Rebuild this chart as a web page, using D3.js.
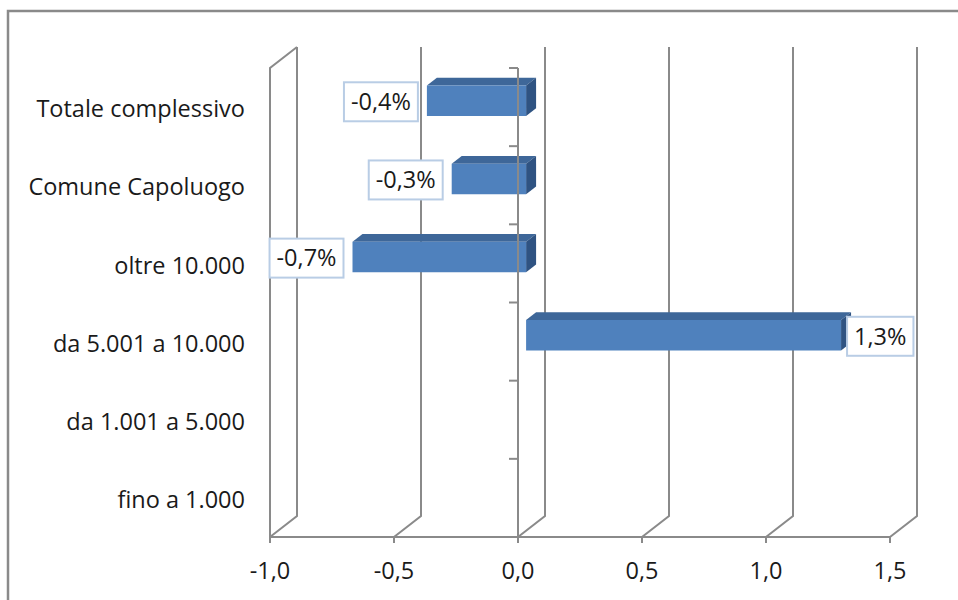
<!DOCTYPE html>
<html>
<head>
<meta charset="utf-8">
<script src="https://cdn.jsdelivr.net/npm/d3@7"></script>
<style>
  html, body { margin: 0; padding: 0; background: #fff; }
  svg { display: block; }
  text { font-family: "Open Sans", Lato, sans-serif; fill: #1a1a1a; }
</style>
</head>
<body>
<div id="vis"></div>
<script>

/* Data */
/* ---- */

var categories = ['Totale complessivo', 'Comune Capoluogo', 'oltre 10.000', 'da 5.001 a 10.000', 'da 1.001 a 5.000', 'fino a 1.000'];
var values = [-0.4, -0.3, -0.7, 1.27, null, null];
var xTicks = [-1.0, -0.5, 0.0, 0.5, 1.0, 1.5];


/* Setup */
/* ----- */

var width = 958, height = 600;

var it = d3.formatLocale({ decimal: ',', thousands: '.', grouping: [3], currency: ['€', ''], minus: '-' });
var fmtTick = it.format('.1f');
var fmtPct = function(v) { return it.format('.1f')(v) + '%'; };

var svg = d3.select('#vis').append('svg')
    .attr('width', width)
    .attr('height', height);

// front plane scales
var x = d3.scaleLinear().domain([-1, 1.5]).range([270, 890]);
var y = d3.scaleBand().domain(categories).range([68, 537]);

// 3d offsets (front -> back)
var depth = { dx: 27, dy: -21 };
var barDepth = [0.3, 0.67]; // bar sits between these fractions of depth
var barFrac = 0.39;          // bar thickness relative to band

var grey = '#8a8a8a';

// outer frame
svg.append('rect')
    .attr('x', 8).attr('y', 11)
    .attr('width', 1000).attr('height', 700)
    .attr('fill', 'none')
    .attr('stroke', grey)
    .attr('stroke-width', 2.5);


/* Walls and gridlines */
/* ------------------- */

var grid = svg.append('g').attr('class', 'grid')
    .attr('fill', 'none')
    .attr('stroke', grey)
    .attr('stroke-width', 2);

var yTop = y.range()[0], yBot = y.range()[1];

// left wall front edge + top
grid.append('path')
    .attr('d', 'M' + x(-1) + ',' + yBot + 'V' + yTop + 'L' + (x(-1) + depth.dx) + ',' + (yTop + depth.dy));

// back gridlines with floor diagonals
grid.selectAll('.gl')
  .data(xTicks)
  .enter().append('path')
    .attr('class', 'gl')
    .attr('d', function(d) {
      return 'M' + (x(d) + depth.dx) + ',' + (yTop + depth.dy) +
        'V' + (yBot + depth.dy) +
        'L' + x(d) + ',' + yBot;
    });

// floor front edge
grid.append('path')
    .attr('d', 'M' + x(-1) + ',' + yBot + 'H' + x(1.5));

// ticks under floor
grid.selectAll('.ft')
  .data(xTicks)
  .enter().append('path')
    .attr('class', 'ft')
    .attr('d', function(d) { return 'M' + x(d) + ',' + yBot + 'v6'; });


/* Bars */
/* ---- */

var barData = categories.map(function(c, i) { return { cat: c, value: values[i] }; })
    .filter(function(d) { return d.value !== null; });

var bars = svg.append('g').attr('class', 'bars');

function pt(px, py, f) {
  return (px + f * depth.dx) + ',' + (py + f * depth.dy);
}

barData.forEach(function(d) {
  var x0 = x(Math.min(0, d.value)), x1 = x(Math.max(0, d.value));
  var cy = y(d.cat) + y.bandwidth() / 2;
  var h = y.bandwidth() * barFrac;
  var t = cy - h / 2, b = cy + h / 2;
  var f1 = barDepth[0], f2 = barDepth[1];

  d.face = { x0: x0 + f1 * depth.dx, x1: x1 + f1 * depth.dx, cy: cy + f1 * depth.dy };

  var g = bars.append('g');

  // top
  g.append('polygon')
      .attr('points', [pt(x0, t, f1), pt(x1, t, f1), pt(x1, t, f2), pt(x0, t, f2)].join(' '))
      .attr('fill', '#3e6799');

  // side
  g.append('polygon')
      .attr('points', [pt(x1, t, f1), pt(x1, t, f2), pt(x1, b, f2), pt(x1, b, f1)].join(' '))
      .attr('fill', '#2f5382');

  // front
  g.append('polygon')
      .attr('points', [pt(x0, t, f1), pt(x1, t, f1), pt(x1, b, f1), pt(x0, b, f1)].join(' '))
      .attr('fill', '#4f81bd');
});


/* Category axis (front, at 0) */
/* --------------------------- */

var axis = svg.append('g').attr('class', 'cat-axis')
    .attr('fill', 'none')
    .attr('stroke', grey)
    .attr('stroke-width', 2);

axis.append('path')
    .attr('d', 'M' + x(0) + ',' + yTop + 'V' + yBot);

var bounds = categories.map(function(c) { return y(c); }).concat([yBot]);

axis.selectAll('.ct')
  .data(bounds)
  .enter().append('path')
    .attr('class', 'ct')
    .attr('d', function(d) { return 'M' + (x(0) - 9) + ',' + d + 'H' + x(0); });


/* Texts */
/* ----- */

var fontSize = 23.5;

svg.append('g').attr('class', 'cat-labels')
  .selectAll('text')
  .data(categories)
  .enter().append('text')
    .attr('x', 245)
    .attr('y', function(d) { return y(d) + y.bandwidth() / 2 + 2; })
    .attr('dy', '0.35em')
    .attr('text-anchor', 'end')
    .style('font-size', fontSize + 'px')
    .text(function(d) { return d; });

svg.append('g').attr('class', 'x-labels')
  .selectAll('text')
  .data(xTicks)
  .enter().append('text')
    .attr('x', function(d) { return x(d); })
    .attr('y', 571)
    .attr('dy', '0.35em')
    .attr('text-anchor', 'middle')
    .style('font-size', fontSize + 'px')
    .text(fmtTick);

// data labels with boxes
var dl = svg.append('g').attr('class', 'data-labels');

barData.forEach(function(d) {
  var g = dl.append('g');
  var box = g.append('rect');
  var txt = g.append('text')
      .attr('text-anchor', 'middle')
      .attr('dy', '0.35em')
      .style('font-size', fontSize + 'px')
      .text(fmtPct(d.value));

  var w = txt.node().getComputedTextLength() + 14, h = 39;
  var cx = d.value < 0 ? d.face.x0 - 9 - w / 2 : d.face.x1 + 6 + w / 2;
  var cy = d.face.cy + 1;

  box.attr('x', cx - w / 2).attr('y', cy - h / 2)
      .attr('width', w).attr('height', h)
      .attr('fill', '#fff')
      .attr('stroke', '#b9cde5')
      .attr('stroke-width', 2);

  txt.attr('x', cx).attr('y', cy);
});

</script>
</body>
</html>
